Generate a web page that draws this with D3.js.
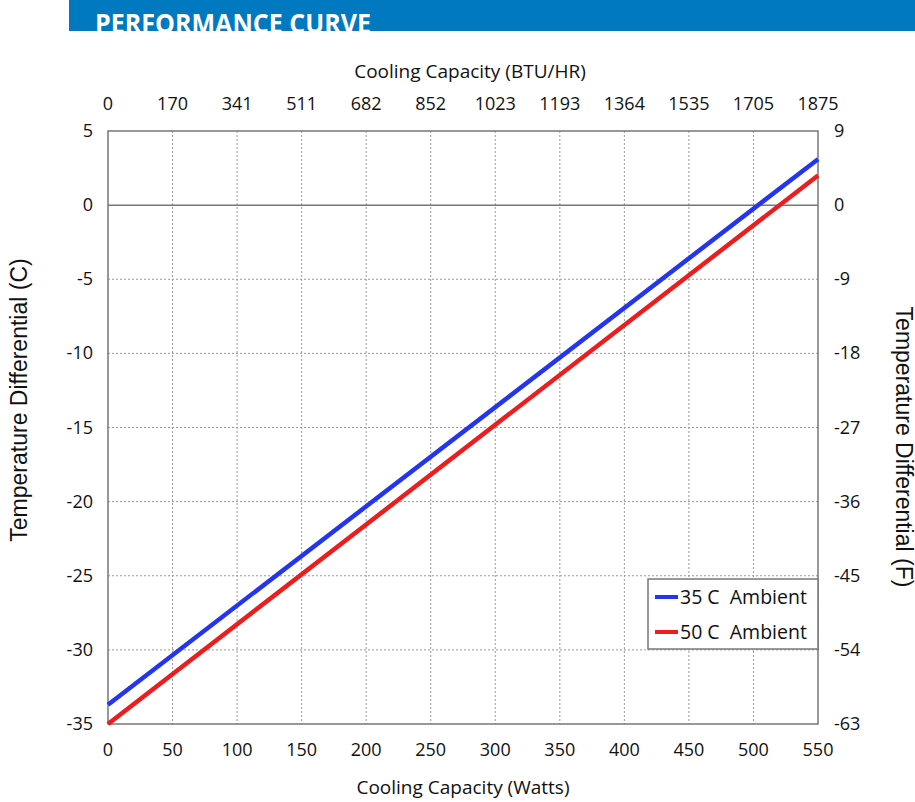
<html>
<head>
<title>Performance Curve</title>
<script src="https://cdnjs.cloudflare.com/ajax/libs/d3/7.8.5/d3.min.js"></script>
<style>
  body { margin: 0; background: #fff; }
</style>
</head>
<body>
<div id="container"></div>
<script>
// Data
var wattTicks = [0, 50, 100, 150, 200, 250, 300, 350, 400, 450, 500, 550];
var btuLabels = ["0", "170", "341", "511", "682", "852", "1023", "1193", "1364", "1535", "1705", "1875"];
var cTicks = [5, 0, -5, -10, -15, -20, -25, -30, -35];
var fLabels = ["9", "0", "-9", "-18", "-27", "-36", "-45", "-54", "-63"];
var seriesNames = ["35 C  Ambient", "50 C  Ambient"];
var seriesColors = ["#2335f0", "#ee1c1c"];
var watts = [0, 550];
var ambient35 = [-33.7, 3.1];
var ambient50 = [-35.0, 2.0];

function draw() {
    var w = 915, h = 802;
    var pLeft = 108, pRight = 818, pTop = 131, pBottom = 724;
    var font = "Open Sans";
    var ink = "#111";

    var svg = d3.select("#container").append("svg")
        .attr("width", w).attr("height", h);

    // header bar
    svg.append("rect").attr("x", 69).attr("y", 0).attr("width", w - 69).attr("height", 31)
        .attr("fill", "#0079c1");
    svg.append("clipPath").attr("id", "hdr").append("rect")
        .attr("x", 69).attr("y", 0).attr("width", w - 69).attr("height", 31);
    svg.append("text").attr("x", 95).attr("y", 33)
        .attr("clip-path", "url(#hdr)")
        .attr("fill", "#fff").attr("font-family", font).attr("font-weight", "bold")
        .attr("font-size", 27).attr("textLength", 276).attr("lengthAdjust", "spacingAndGlyphs")
        .text("PERFORMANCE CURVE");

    var x = d3.scaleLinear().domain([0, 550]).range([pLeft, pRight]);
    var y = d3.scaleLinear().domain([-35, 5]).range([pBottom, pTop]);

    // grid
    svg.append("g").selectAll("line")
        .data(wattTicks.slice(1, -1))
        .enter().append("line")
        .attr("x1", function(d) { return x(d); }).attr("x2", function(d) { return x(d); })
        .attr("y1", pTop).attr("y2", pBottom)
        .attr("stroke", "#999").attr("stroke-width", 1).attr("stroke-dasharray", "2,2");

    svg.append("g").selectAll("line")
        .data(cTicks.filter(function(d) { return d != 5 && d != -35; }))
        .enter().append("line")
        .attr("x1", pLeft).attr("x2", pRight)
        .attr("y1", function(d) { return y(d); }).attr("y2", function(d) { return y(d); })
        .attr("stroke", function(d) { return d == 0 ? "#777" : "#999"; })
        .attr("stroke-width", function(d) { return d == 0 ? 1.5 : 1; })
        .attr("stroke-dasharray", function(d) { return d == 0 ? null : "2,2"; });

    // frame
    svg.append("rect").attr("x", pLeft).attr("y", pTop)
        .attr("width", pRight - pLeft).attr("height", pBottom - pTop)
        .attr("fill", "none").attr("stroke", "#777").attr("stroke-width", 1.5);

    // bottom axis labels (watts)
    svg.append("g").selectAll("text")
        .data(wattTicks).enter().append("text")
        .attr("x", function(d) { return x(d); }).attr("y", 756)
        .attr("text-anchor", "middle").attr("font-family", font).attr("font-size", 18)
        .attr("fill", ink)
        .text(function(d) { return d; });

    // top axis labels (BTU/HR)
    svg.append("g").selectAll("text")
        .data(btuLabels).enter().append("text")
        .attr("x", function(d, i) { return x(wattTicks[i]); }).attr("y", 110)
        .attr("text-anchor", "middle").attr("font-family", font).attr("font-size", 18)
        .attr("fill", ink)
        .text(function(d) { return d; });

    // left axis labels (C)
    svg.append("g").selectAll("text")
        .data(cTicks).enter().append("text")
        .attr("x", 93).attr("y", function(d) { return y(d) + 6; })
        .attr("text-anchor", "end").attr("font-family", font).attr("font-size", 18)
        .attr("fill", ink)
        .text(function(d) { return d; });

    // right axis labels (F)
    svg.append("g").selectAll("text")
        .data(fLabels).enter().append("text")
        .attr("x", 834).attr("y", function(d, i) { return y(cTicks[i]) + 6; })
        .attr("text-anchor", "start").attr("font-family", font).attr("font-size", 18)
        .attr("fill", ink)
        .text(function(d) { return d; });

    // axis titles
    svg.append("text").attr("x", 470).attr("y", 78)
        .attr("text-anchor", "middle").attr("font-family", font).attr("font-size", 19)
        .attr("fill", ink).text("Cooling Capacity (BTU/HR)");
    svg.append("text").attr("x", 463).attr("y", 794)
        .attr("text-anchor", "middle").attr("font-family", font).attr("font-size", 19)
        .attr("fill", ink).text("Cooling Capacity (Watts)");
    svg.append("text").attr("transform", "translate(27,400) rotate(-90)")
        .attr("text-anchor", "middle").attr("font-family", "Liberation Sans").attr("font-size", 23)
        .attr("fill", ink).text("Temperature Differential (C)");
    svg.append("text").attr("transform", "translate(896,447) rotate(90)")
        .attr("text-anchor", "middle").attr("font-family", "Liberation Sans").attr("font-size", 23)
        .attr("fill", ink).text("Temperature Differential (F)");

    // lines
    var line = d3.line()
        .x(function(d) { return x(d[0]); })
        .y(function(d) { return y(d[1]); });
    var series = [ambient35, ambient50].map(function(s) {
        return watts.map(function(wv, i) { return [wv, s[i]]; });
    });
    svg.append("g").selectAll("path")
        .data(series).enter().append("path")
        .attr("d", line)
        .attr("fill", "none")
        .attr("stroke", function(d, i) { return seriesColors[i]; })
        .attr("stroke-width", 4.5);

    // legend
    var lg = svg.append("g");
    lg.append("rect").attr("x", 648).attr("y", 579).attr("width", 170).attr("height", 70)
        .attr("fill", "#fff").attr("stroke", "#777").attr("stroke-width", 1.5);
    seriesNames.forEach(function(name, i) {
        var yy = 597 + i * 35;
        lg.append("line").attr("x1", 655).attr("x2", 678).attr("y1", yy).attr("y2", yy)
            .attr("stroke", seriesColors[i]).attr("stroke-width", 4);
        lg.append("text").attr("x", 680).attr("y", yy + 7)
            .attr("font-family", font).attr("font-size", 19.5).attr("fill", ink)
            .style("white-space", "pre")
            .text(name);
    });
}

draw();
</script>
</body>
</html>
